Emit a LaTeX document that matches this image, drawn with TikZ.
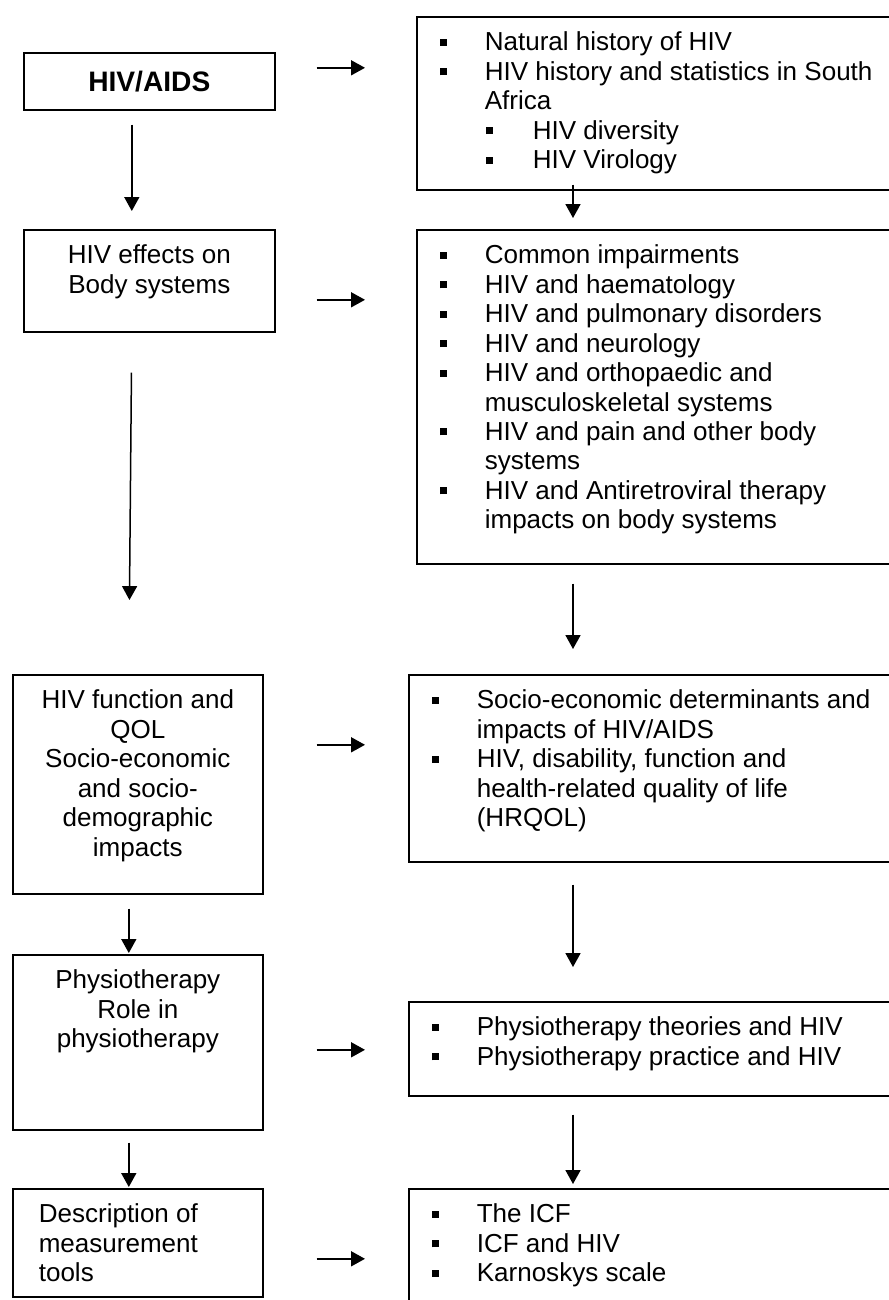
\documentclass[tikz,border=0pt]{standalone}
\usepackage{fontspec}
\setmainfont{Liberation Sans}
\usetikzlibrary{arrows.meta}
\newlength{\pxunit}
\setlength{\pxunit}{0.46875pt}
\newcommand{\sqbullet}{\rule[5\pxunit]{7\pxunit}{7\pxunit}}
\newcommand{\boxtext}[3]{\parbox[t][#1][t]{#2}{\vspace*{13.4\pxunit}#3}}
\newcommand{\itm}[1]{\par\noindent\hangindent=68\pxunit\hspace*{23\pxunit}%
  \makebox[45\pxunit][l]{\sqbullet}\strut#1}
\newcommand{\subitm}[1]{\par\noindent\hangindent=116\pxunit\hspace*{69\pxunit}%
  \makebox[47\pxunit][l]{\sqbullet}\strut#1}
\tikzset{
    box/.style={draw,line width=1.6\pxunit,inner sep=0pt,anchor=north west,
                font=\fontsize{12.2}{13.8}\selectfont},
    arr/.style={->,line width=1.5\pxunit},
}

\begin{document}
\begin{tikzpicture}[x=0.46875pt,y=-0.46875pt,>={Triangle[length=6.5pt,width=7pt]}]
\useasboundingbox (0,0) rectangle (889,1300);
\clip (0,0) rectangle (889,1300);
% colonne de gauche
\node [box,minimum width=251\pxunit,minimum height=57\pxunit,font=\fontsize{13.2}{15}\selectfont\bfseries]
    (aids) at (23,52) {HIV/AIDS};
\node [box] (effects) at (23,229)
    {\boxtext{102\pxunit}{251\pxunit}{\centering\strut HIV effects on\\Body systems}};
\node [box] (func) at (12,674)
    {\boxtext{219\pxunit}{250\pxunit}{\centering\strut HIV function and\\QOL\\Socio-economic\\and socio-\\demographic\\impacts}};
\node [box] (physio) at (12,954)
    {\boxtext{175\pxunit}{250\pxunit}{\centering\strut Physiotherapy\\Role in\\physiotherapy}};
\node [box] (desc) at (12,1188)
    {\boxtext{108\pxunit}{250\pxunit}{\leftskip=26\pxunit\strut Description of\\measurement\\tools}};
% colonne de droite
\node [box] (r1) at (416,16)
    {\boxtext{173\pxunit}{490\pxunit}{%
      \itm{Natural history of HIV}
      \itm{HIV history and statistics in South\\Africa}
      \subitm{HIV diversity}
      \subitm{HIV Virology}}};
\node [box] (r2) at (416,229)
    {\boxtext{334\pxunit}{490\pxunit}{%
      \itm{Common impairments}
      \itm{HIV and haematology}
      \itm{HIV and pulmonary disorders}
      \itm{HIV and neurology}
      \itm{HIV and orthopaedic and\\musculoskeletal systems}
      \itm{HIV and pain and other body\\systems}
      \itm{HIV and Antiretroviral therapy\\impacts on body systems}}};
\node [box] (r3) at (408,674)
    {\boxtext{187\pxunit}{492\pxunit}{%
      \itm{Socio-economic determinants and\\impacts of HIV/AIDS}
      \itm{HIV, disability, function and\\health-related quality of life\\(HRQOL)}}};
\node [box] (r4) at (408,1001)
    {\boxtext{94\pxunit}{492\pxunit}{%
      \itm{Physiotherapy theories and HIV}
      \itm{Physiotherapy practice and HIV}}};
\node [box] (r5) at (408,1188)
    {\boxtext{140\pxunit}{492\pxunit}{%
      \itm{The ICF}
      \itm{ICF and HIV}
      \itm{Karnoskys scale}}};
% fleches verticales
\draw [arr,shorten <=14\pxunit,shorten >=18\pxunit]
    ([xshift=-17.5\pxunit]aids.south) -- ([xshift=-17.5\pxunit]effects.north);
\draw [arr,shorten <=40\pxunit,shorten >=74\pxunit]
    ([xshift=-17.5\pxunit]effects.south) -- ([xshift=-9\pxunit]func.north);
\draw [arr,shorten <=14\pxunit,shorten >=1\pxunit]
    ([xshift=-9\pxunit]func.south) -- ([xshift=-9\pxunit]physio.north);
\draw [arr,shorten <=12\pxunit,shorten >=1\pxunit]
    ([xshift=-9\pxunit]physio.south) -- ([xshift=-9\pxunit]desc.north);
\draw [arr,shorten <=-6\pxunit,shorten >=11\pxunit]
    ([xshift=157\pxunit]r1.south west) -- ([xshift=157\pxunit]r2.north west);
\draw [arr,shorten <=19\pxunit,shorten >=25\pxunit]
    ([xshift=157\pxunit]r2.south west) -- ([xshift=165\pxunit]r3.north west);
\draw [arr,shorten <=22\pxunit,shorten >=34\pxunit]
    ([xshift=165\pxunit]r3.south west) -- ([xshift=165\pxunit]r4.north west);
\draw [arr,shorten <=18\pxunit,shorten >=4\pxunit]
    ([xshift=165\pxunit]r4.south west) -- ([xshift=165\pxunit]r5.north west);
% fleches horizontales
\draw [arr,shorten <=41\pxunit,shorten >=51\pxunit]
    ([yshift=13.5\pxunit]aids.east) -- ([yshift=13.5\pxunit]aids.east -| r1.west);
\draw [arr,shorten <=41\pxunit,shorten >=51\pxunit]
    ([yshift=-19\pxunit]effects.east) -- ([yshift=-19\pxunit]effects.east -| r2.west);
\draw [arr,shorten <=53\pxunit,shorten >=43\pxunit]
    ([yshift=39.5\pxunit]func.east) -- ([yshift=39.5\pxunit]func.east -| r3.west);
\draw [arr,shorten <=53\pxunit,shorten >=43\pxunit]
    ([yshift=-7.5\pxunit]physio.east) -- ([yshift=-7.5\pxunit]physio.east -| r4.west);
\draw [arr,shorten <=53\pxunit,shorten >=43\pxunit]
    ([yshift=-16\pxunit]desc.east) -- ([yshift=-16\pxunit]desc.east -| r5.west);
\end{tikzpicture}
\end{document}
